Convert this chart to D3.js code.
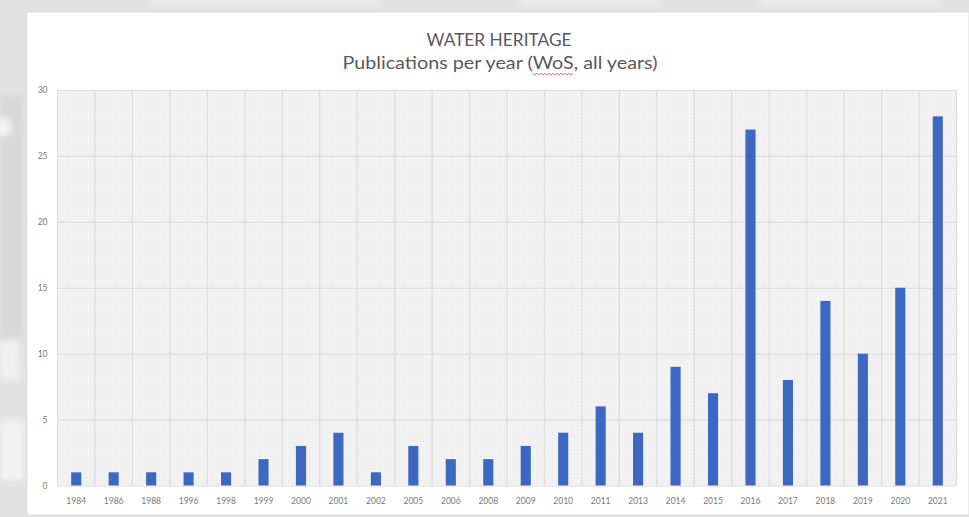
<!DOCTYPE html>
<html>
<head>
<meta charset="utf-8">
<script src="https://cdn.jsdelivr.net/npm/d3@7"></script>
<style>
  html, body { margin: 0; padding: 0; background: #e4e4e4; }
  svg { display: block; }
</style>
</head>
<body>
<svg id="chart" width="969" height="517"></svg>
<script>
// Publications per year
const years = ["1984","1986","1988","1996","1998","1999","2000","2001","2002","2005","2006","2008","2009","2010","2011","2013","2014","2015","2016","2017","2018","2019","2020","2021"];
const publications = [1,1,1,1,1,2,3,4,1,3,2,2,3,4,6,4,9,7,27,8,14,10,15,28];
const yTicks = [0,5,10,15,20,25,30];
const titleLines = ["WATER HERITAGE", "Publications per year (WoS, all years)"];

const W = 969, H = 517;
const svg = d3.select("#chart");

// slide backdrop around the chart card
const defs = svg.append("defs");
defs.append("filter").attr("id", "soft")
  .append("feGaussianBlur").attr("stdDeviation", 3);
const pat = defs.append("pattern").attr("id", "dots")
  .attr("width", 3).attr("height", 3).attr("patternUnits", "userSpaceOnUse");
pat.append("rect").attr("width", 3).attr("height", 3).attr("fill", "#f2f2f2");
pat.append("rect").attr("width", 1).attr("height", 1).attr("fill", "#e9e9e9");

svg.append("rect").attr("width", W).attr("height", H).attr("fill", "#e2e2e2");
const deco = svg.append("g").attr("filter", "url(#soft)");
deco.append("rect").attr("x", 0).attr("y", 95).attr("width", 22).attr("height", 270).attr("fill", "#d8d8d8");
deco.append("circle").attr("cx", 3).attr("cy", 127).attr("r", 9).attr("fill", "#f4f4f4");
deco.append("rect").attr("x", 0).attr("y", 340).attr("width", 20).attr("height", 40).attr("fill", "#f0f0f0");
deco.append("rect").attr("x", 0).attr("y", 420).attr("width", 24).attr("height", 60).attr("fill", "#f2f2f2");
deco.append("rect").attr("x", 150).attr("y", 0).attr("width", 230).attr("height", 6).attr("fill", "#f0f0f0");
deco.append("rect").attr("x", 520).attr("y", 0).attr("width", 140).attr("height", 6).attr("fill", "#f0f0f0");
deco.append("rect").attr("x", 760).attr("y", 0).attr("width", 180).attr("height", 6).attr("fill", "#f0f0f0");

// chart card
svg.append("rect")
  .attr("x", 27).attr("y", 12).attr("width", W - 27).attr("height", 503)
  .attr("fill", "#ffffff").attr("stroke", "#dddddd").attr("stroke-width", 1);

// title
const title = svg.append("g").attr("font-family", "Lato, 'Open Sans', sans-serif").attr("fill", "#595959").attr("text-anchor", "middle");
title.append("text").attr("x", 499).attr("y", 46).attr("font-size", 17)
  .attr("textLength", 145).attr("lengthAdjust", "spacingAndGlyphs").text(titleLines[0]);
const sub = title.append("text").attr("x", 500).attr("y", 69).attr("font-size", 17)
  .attr("textLength", 315).attr("lengthAdjust", "spacingAndGlyphs").text(titleLines[1]);

// scales
const plot = { left: 57.5, right: 956.5, top: 90, bottom: 485.5 };
const x = d3.scaleBand().domain(years).range([plot.left, plot.right]).padding(0);
const y = d3.scaleLinear().domain([0, 30]).range([plot.bottom, plot.top]);

// plot area
svg.append("rect")
  .attr("x", plot.left).attr("y", plot.top)
  .attr("width", plot.right - plot.left).attr("height", plot.bottom - plot.top)
  .attr("fill", "url(#dots)");

// horizontal grid + y labels
const yAxis = d3.axisLeft(y).tickValues(yTicks).tickSize(-(plot.right - plot.left)).tickPadding(10);
const gy = svg.append("g").attr("transform", `translate(${plot.left},0)`).call(yAxis);
gy.select(".domain").remove();
gy.selectAll(".tick line").attr("stroke", "#dcdcdc").attr("stroke-width", 1.2);
gy.selectAll(".tick text").attr("fill", "#7a7a7a").attr("font-size", 8.5).attr("font-family", "Lato, sans-serif");

// vertical grid at category boundaries
const boundaries = years.map(d => x(d)).concat([plot.right]);
svg.append("g").selectAll("line").data(boundaries).join("line")
  .attr("x1", d => d).attr("x2", d => d)
  .attr("y1", plot.top).attr("y2", plot.bottom)
  .attr("stroke", "#dcdcdc").attr("stroke-width", 1.2);

// bars
const barW = x.bandwidth() * 0.27;
svg.append("g").selectAll("rect").data(years).join("rect")
  .attr("x", (d) => x(d) + x.bandwidth() / 2 - barW / 2)
  .attr("y", (d, i) => y(publications[i]))
  .attr("width", barW)
  .attr("height", (d, i) => y(0) - y(publications[i]))
  .attr("fill", "#3d68c1");

// x labels
const xAxis = d3.axisBottom(x).tickSize(0).tickPadding(12);
const gx = svg.append("g").attr("transform", `translate(0,${plot.bottom})`).call(xAxis);
gx.select(".domain").remove();
gx.selectAll(".tick text").attr("fill", "#7a7a7a").attr("font-size", 8.5).attr("font-family", "Lato, sans-serif");

// spell-check squiggle under "WoS"
const full = sub.node();
const iW = titleLines[1].indexOf("WoS");
const start = full.getStartPositionOfChar(iW);
const end = full.getEndPositionOfChar(iW + 2);
const pts = [];
for (let px = start.x, k = 0; px <= end.x + 0.1; px += 2, k++) pts.push([px, 73.5 + (k % 2 ? 1.2 : -0.2)]);
svg.append("path").attr("d", d3.line()(pts)).attr("fill", "none").attr("stroke", "#e05050").attr("stroke-width", 0.9);
</script>
</body>
</html>
